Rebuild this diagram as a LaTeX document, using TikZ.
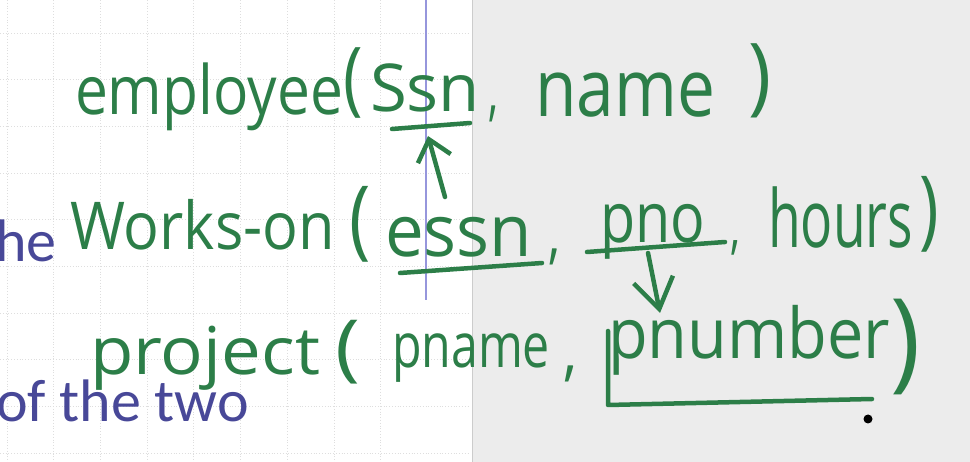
\documentclass[tikz,border=0pt]{standalone}
\usepackage{fontspec}
\usepackage{graphicx}
\setmainfont{Open Sans}
\newfontfamily\slidefont{Carlito}
\usetikzlibrary{arrows.meta}
\definecolor{ink}{RGB}{44,126,72}
\definecolor{slideblue}{RGB}{72,72,152}
\definecolor{panelgray}{RGB}{236,236,236}
\definecolor{gridgray}{RGB}{222,222,222}
\definecolor{cursorblue}{RGB}{150,150,220}
\newcommand{\hw}[3]{\resizebox{#1pt}{\height}{\fontsize{#2}{#2}\selectfont #3}}
\newcommand{\hwp}[3]{\scalebox{#1}[#2]{\fontsize{60}{60}\selectfont #3}}
\tikzset{
  hand/.style={anchor=base west, inner sep=0pt, outer sep=0pt, text=ink},
  pen/.style={draw=ink, line width=4.5pt, line cap=round, line join=round},
  slidetext/.style={anchor=base east, inner sep=0pt, text=slideblue, font=\slidefont\fontsize{60}{60}\selectfont}
}
\begin{document}
\begin{tikzpicture}[x=1pt,y=-1pt]
\clip (0,0) rectangle (970,462);
\useasboundingbox (0,0) rectangle (970,462);
% backgrounds
\fill[white] (0,0) rectangle (472,462);
\fill[panelgray] (472,0) rectangle (970,462);
\draw[gray!40, line width=1pt] (472,0) -- (472,462);
\foreach \gx in {7,53.7,100.4,147.1,193.8,240.5,287.2,333.9,380.6}
  \draw[gridgray, dotted, line width=0.8pt] (\gx,0) -- (\gx,462);
\foreach \gy in {33,79.7,126.4,173.1,219.8,266.5,313.2,359.9,406.6,453.3}
  \draw[gridgray, dotted, line width=0.8pt] (0,\gy) -- (470,\gy);
\draw[cursorblue, line width=1.2pt] (426,0) -- (426,300);
% slide text
\node[slidetext] (the) at (57,262) {the};
\node[slidetext] (ofthetwo) at (249,421) {of the two};
% line 1
\node[hand] (emp)   at (75,115)  {\hw{268}{68}{employee}};
\node[hand] (p1o)   at (343,106) {\hwp{1.1}{1.35}{(}};
\node[hand] (ssn)   at (370,112) {\hw{110}{66}{Ssn}};
\node[hand] (c1)    at (488,114) {\hw{10}{66}{,}};
\node[hand] (name)  at (535,117) {\hw{180}{80}{name}};
\node[hand] (p1c)   at (748,105) {\hwp{1.3}{1.42}{)}};
% line 2
\node[hand] (works) at (70,250)  {\hw{265}{66}{Works-on}};
\node[hand] (p2o)   at (349,249) {\hwp{1.2}{1.45}{(}};
\node[hand] (essn)  at (385,257) {\hw{147}{72}{essn}};
\node[hand] (c2)    at (548,257) {\hw{12}{66}{,}};
\node[hand] (pno)   at (600,243) {\hw{105}{70}{pno}};
\node[hand] (c3)    at (730,248) {\hw{10}{60}{,}};
\node[hand] (hours) at (768,248) {\hw{145}{80}{hours}};
\node[hand] (p2c)   at (919,239) {\hwp{1.1}{1.45}{)}};
% line 3
\node[hand] (proj)  at (90,374)  {\hw{230}{66}{project}};
\node[hand] (p3o)   at (335,373) {\hwp{1.4}{1.22}{(}};
\node[hand] (pname) at (392,368) {\hw{158}{62}{pname}};
\node[hand] (c4)    at (563,374) {\hw{14}{66}{,}};
\node[hand] (pnum)  at (608,359) {\hw{282}{70}{pnumber}};
\node[hand] (p3c)   at (890,378) {\hwp{1.7}{1.83}{)}};
% underlines and arrows
\coordinate (ssnL) at (392,129);
\coordinate (ssnR) at (470,123);
\coordinate (essnL) at (400,273);
\coordinate (essnR) at (542,263);
\coordinate (pnoL) at (587,252);
\coordinate (pnoR) at (725,242);
\coordinate (upS) at (445,197);
\coordinate (upT) at (428,136);
\coordinate (dnS) at (648,253);
\coordinate (dnT) at (660,313);
\coordinate (pnTop) at (608,331);
\coordinate (pnBot) at (608,405);
\coordinate (pnR) at (872,399);
\draw[pen] (ssnL) -- (ssnR);
\draw[pen] (essnL) -- (essnR);
\draw[pen] (pnoL) -- (pnoR);
\draw[pen, -{Straight Barb[length=20pt,width=34pt,line width=4.5pt]}] (upS) -- (upT);
\draw[pen, -{Straight Barb[length=30pt,width=40pt,line width=4.5pt]}] (dnS) -- (dnT);
\draw[pen] (pnTop) -- (pnBot) -- (pnR);
\fill[black] (868,419) circle[radius=4.5pt];
\end{tikzpicture}
\end{document}
